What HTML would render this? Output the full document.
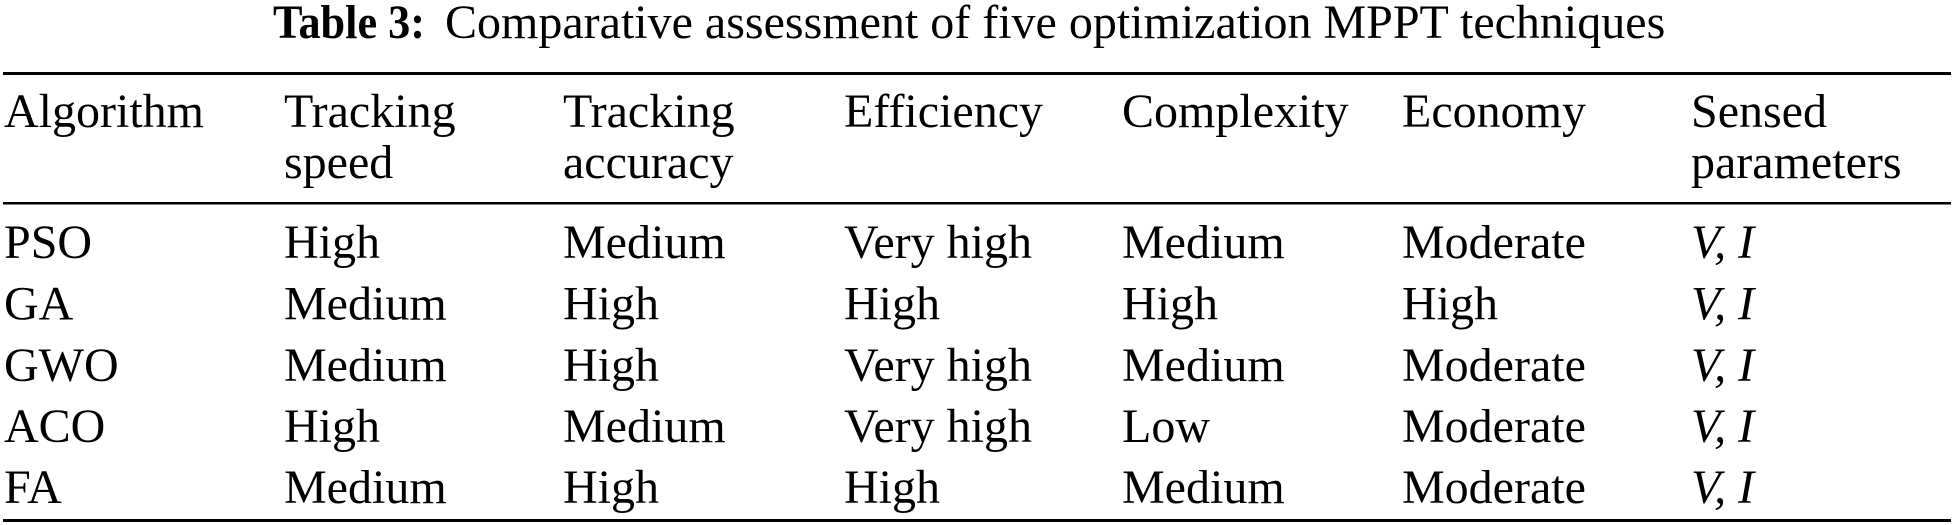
<!DOCTYPE html>
<html>
<head>
<meta charset="utf-8">
<style>
  html, body { margin: 0; padding: 0; background: #ffffff; }
  body { width: 1954px; height: 525px; overflow: hidden; }
  svg { display: block; }
  text { font-family: "Liberation Serif", "Times New Roman", serif; font-size: 48px; fill: #000; }
  .it { font-style: italic; }
</style>
</head>
<body>
<svg width="1954" height="525" viewBox="0 0 1954 525" xmlns="http://www.w3.org/2000/svg">
  <!-- Title -->
  <text x="273" y="38" font-weight="bold" textLength="152" lengthAdjust="spacingAndGlyphs">Table 3:</text>
  <text x="445" y="38">Comparative assessment of five optimization MPPT techniques</text>

  <!-- Rules -->
  <rect x="3" y="72" width="1948" height="3" fill="#000"/>
  <rect x="3" y="202" width="1948" height="2.5" fill="#000"/>
  <rect x="3" y="519" width="1948" height="3" fill="#000"/>

  <!-- Header line 1 -->
  <text x="4" y="127">Algorithm</text>
  <text x="284" y="127">Tracking</text>
  <text x="563" y="127">Tracking</text>
  <text x="844" y="127">Efficiency</text>
  <text x="1122" y="127">Complexity</text>
  <text x="1402" y="127">Economy</text>
  <text x="1691" y="127">Sensed</text>
  <!-- Header line 2 -->
  <text x="284" y="178">speed</text>
  <text x="563" y="178">accuracy</text>
  <text x="1691" y="178">parameters</text>

  <!-- Row PSO -->
  <text x="4" y="258">PSO</text>
  <text x="284" y="258">High</text>
  <text x="563" y="258">Medium</text>
  <text x="844" y="258">Very high</text>
  <text x="1122" y="258">Medium</text>
  <text x="1402" y="258">Moderate</text>
  <text x="1691" y="258" class="it">V, I</text>

  <!-- Row GA -->
  <text x="4" y="319.5">GA</text>
  <text x="284" y="319.5">Medium</text>
  <text x="563" y="319.5">High</text>
  <text x="844" y="319.5">High</text>
  <text x="1122" y="319.5">High</text>
  <text x="1402" y="319.5">High</text>
  <text x="1691" y="319.5" class="it">V, I</text>

  <!-- Row GWO -->
  <text x="4" y="381">GWO</text>
  <text x="284" y="381">Medium</text>
  <text x="563" y="381">High</text>
  <text x="844" y="381">Very high</text>
  <text x="1122" y="381">Medium</text>
  <text x="1402" y="381">Moderate</text>
  <text x="1691" y="381" class="it">V, I</text>

  <!-- Row ACO -->
  <text x="4" y="442">ACO</text>
  <text x="284" y="442">High</text>
  <text x="563" y="442">Medium</text>
  <text x="844" y="442">Very high</text>
  <text x="1122" y="442">Low</text>
  <text x="1402" y="442">Moderate</text>
  <text x="1691" y="442" class="it">V, I</text>

  <!-- Row FA -->
  <text x="4" y="503">FA</text>
  <text x="284" y="503">Medium</text>
  <text x="563" y="503">High</text>
  <text x="844" y="503">High</text>
  <text x="1122" y="503">Medium</text>
  <text x="1402" y="503">Moderate</text>
  <text x="1691" y="503" class="it">V, I</text>
</svg>
</body>
</html>
